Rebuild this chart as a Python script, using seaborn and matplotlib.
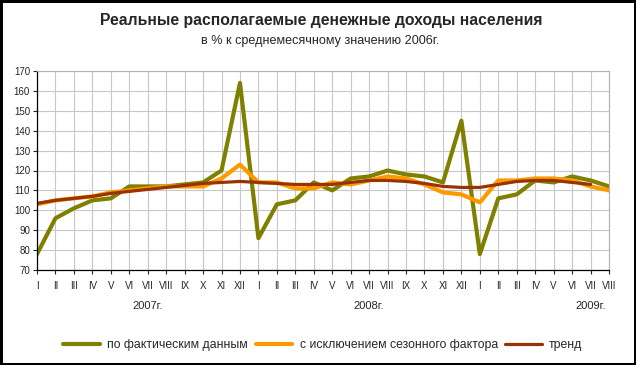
import numpy as np
import pandas as pd
import seaborn as sns
import matplotlib.pyplot as plt

# monthly data, Jan 2007 - Aug 2009
months = ['I', 'II', 'III', 'IV', 'V', 'VI', 'VII', 'VIII', 'IX', 'X', 'XI', 'XII',
          'I', 'II', 'III', 'IV', 'V', 'VI', 'VII', 'VIII', 'IX', 'X', 'XI', 'XII',
          'I', 'II', 'III', 'IV', 'V', 'VI', 'VII', 'VIII']
years = ['2007г.', '2008г.', '2009г.']
year_pos = [6, 18, 30]

actual = [78, 96, 101, 105, 106, 112, 112, 112, 113, 114, 120, 164,
          86, 103, 105, 114, 110, 116, 117, 120, 118, 117, 114, 145,
          78, 106, 108, 115, 114, 117, 115, 112]
seasonal = [103, 105, 106, 107, 109, 110, 111, 112, 112, 112, 116, 123,
            114, 114, 111, 111, 114, 113, 115, 117, 116, 113, 109, 108,
            104, 115, 115, 116, 116, 115, 112, 110]
trend = [103.5, 105, 106, 107, 108.5, 109.5, 110.5, 111.5, 112.5, 113.5, 114, 114.5,
         114, 113.5, 113, 113, 113, 114, 115, 115, 114.5, 113.5, 112, 111.5,
         111.5, 113, 114.5, 115, 115, 114, 113, np.nan]

labels = ['по фактическим данным', 'с исключением сезонного фактора', 'тренд']
colors = ['#808000', '#FF9900', '#993300']

df = pd.DataFrame({'x': np.arange(len(months)),
                   labels[0]: actual, labels[1]: seasonal, labels[2]: trend})

sns.set_style('white')
plt.rcParams['font.family'] = ['Liberation Sans', 'DejaVu Sans']

fig = plt.figure(figsize=(6.36, 3.65), dpi=100)
ax = fig.add_axes([37 / 636, 1 - 270 / 365, 572 / 636, 199 / 365])

for lab, col, lw in zip(labels, colors, [3.0, 3.0, 2.3]):
    sns.lineplot(data=df, x='x', y=lab, color=col, linewidth=lw, label=lab, ax=ax)

ax.set_xlim(0, len(months) - 1)
ax.set_ylim(70, 170)
ax.set_yticks(range(70, 171, 10))
ax.set_xticks(range(len(months)))
ax.set_xticklabels(months, fontsize=7)
ax.tick_params(axis='y', labelsize=7, length=3, width=0.8, pad=2, direction='out', left=True)
ax.tick_params(axis='x', length=3, width=0.8, pad=5, direction='out', bottom=True)
ax.grid(True, color='#c8c8c8', linewidth=0.8)
ax.set_xlabel('')
ax.set_ylabel('')
for s in ['left', 'bottom']:
    ax.spines[s].set_color('black')
    ax.spines[s].set_linewidth(0.9)
for s in ['top', 'right']:
    ax.spines[s].set_color('#b0b0b0')
    ax.spines[s].set_linewidth(0.8)

trans = ax.get_xaxis_transform()
for yr, p in zip(years, year_pos):
    ax.text(p, -0.18, yr, transform=trans, ha='center', va='center', fontsize=8)

ax.legend(loc='center', bbox_to_anchor=(323 / 636, 1 - 345 / 365), bbox_transform=fig.transFigure,
          ncol=3, frameon=False, fontsize=8.8, handlelength=3.0, handletextpad=0.6,
          columnspacing=0.6)

fig.text(321 / 636, 1 - 20.5 / 365, 'Реальные располагаемые денежные доходы населения',
         ha='center', va='center', fontsize=11.3, fontweight='bold')
fig.text(320 / 636, 1 - 41 / 365, 'в % к среднемесячному значению 2006г.',
         ha='center', va='center', fontsize=9.1)

fig.patch.set_edgecolor('black')
fig.patch.set_linewidth(2.5)

fig.savefig('out.png', dpi=100, edgecolor=fig.get_edgecolor())
